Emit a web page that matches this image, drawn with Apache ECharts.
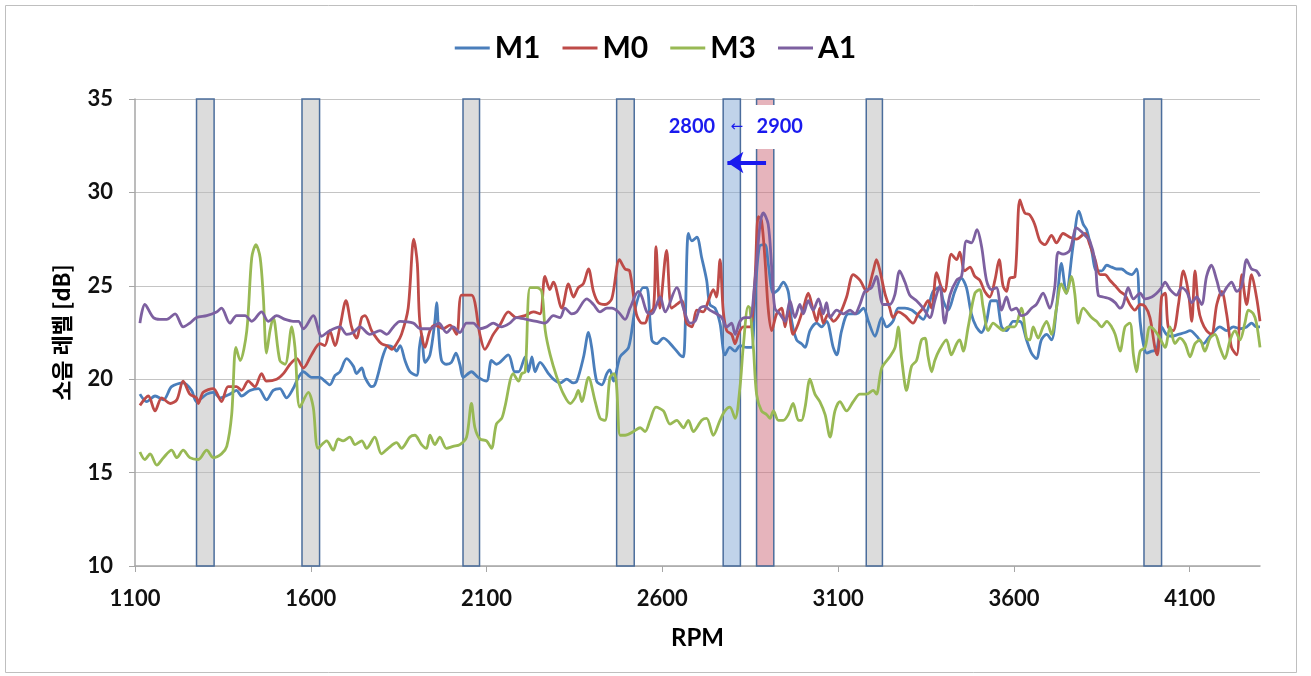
<!DOCTYPE html>
<html>
<head>
<meta charset="utf-8" />
<title>소음 레벨 - RPM</title>
<script src="https://cdn.jsdelivr.net/npm/echarts@6/dist/echarts.min.js"></script>
<style>html,body{margin:0;padding:0;background:#fff;}</style>
</head>
<body>
<div id="main" style="width:1311px;height:676px;"></div>
<script type="text/javascript">

// [rpm, dB]
var m1 = [[1114,19.2],[1133,18.8],[1157,19.1],[1181,18.9],[1204,19.6],[1237,19.8],[1261,19.4],[1275,18.8],[1304,19.2],[1323,19.3],[1342,19.0],[1370,19.2],[1389,19.4],[1403,19.1],[1427,19.4],[1451,19.5],[1474,18.9],[1493,19.4],[1512,19.5],[1531,19.0],[1550,19.5],[1565,20.1],[1579,20.4],[1602,20.1],[1626,20.1],
  [1640,19.9],[1654,19.7],[1669,20.2],[1683,20.4],[1702,21.1],[1721,20.7],[1730,20.3],[1745,20.6],[1754,20.1],[1773,19.6],[1782,19.7],[1792,20.3],[1806,21.3],[1820,21.8],[1835,21.7],[1844,21.5],[1854,21.8],[1868,21.0],[1882,20.4],[1901,20.2],[1909,21.7],[1915,22.4],[1925,20.9],[1939,21.3],[1953,23.1],[1958,24.1],[1964,22.4],[1972,21.0],[1986,20.8],[2000,20.9],[2013,21.4],[2024,20.8],[2034,20.1],[2057,20.4],[2076,20.1],[2100,19.9],[2114,21.0],[2128,20.8],[2162,21.3],[2180,20.4],
  [2191,20.4],[2210,21.2],[2219,20.4],[2229,21.2],[2238,20.4],[2252,20.9],[2276,20.3],[2290,20.0],[2309,19.8],[2328,20.0],[2347,19.8],[2357,19.9],[2376,21.2],[2390,22.5],[2399,21.7],[2413,19.9],[2428,19.7],[2442,20.3],[2451,20.5],[2461,19.9],[2480,21.2],[2504,21.7],[2523,23.8],[2546,24.9],[2556,24.9],[2570,22.1],[2584,21.9],[2603,22.2],[2632,21.7],[2650,21.3],[2660,21.2],[2674,27.8],[2684,27.4],[2698,27.6],[2712,26.5],[2726,25.3],
  [2735,24.0],[2750,23.8],[2764,23.0],[2778,21.3],[2792,21.7],[2807,21.5],[2821,21.8],[2840,21.7],[2854,21.7],[2863,24.2],[2876,27.1],[2892,27.2],[2901,26.2],[2916,24.6],[2930,24.8],[2944,25.2],[2958,24.7],[2968,23.1],[2982,22.1],[2996,21.9],[3006,21.7],[3020,22.6],[3039,23.0],[3053,22.8],[3067,23.1],[3086,21.7],[3096,21.3],[3110,22.6],[3129,23.5],[3153,23.5],[3172,23.8],[3186,23.1],[3205,22.3],[3224,23.3],[3238,22.8],
  [3256,23.1],[3271,23.8],[3290,23.8],[3309,23.7],[3323,23.5],[3342,23.2],[3356,23.8],[3370,24.7],[3389,24.9],[3399,24.2],[3413,23.7],[3432,24.7],[3451,25.4],[3465,24.9],[3479,23.5],[3493,22.8],[3508,22.5],[3522,23.1],[3536,24.2],[3550,24.2],[3565,22.8],[3579,22.6],[3598,23.1],[3617,23.1],[3636,22.1],[3650,21.4],[3664,21.1],[3678,22.1],[3693,22.4],[3707,22.1],[3721,23.8],[3735,26.2],[3749,24.6],[3768,27.1],[3785,29.0],[3797,28.3],
  [3807,28.0],[3821,26.9],[3835,25.8],[3850,25.8],[3864,26.1],[3878,26.0],[3892,25.9],[3906,25.9],[3921,25.7],[3935,25.6],[3949,25.9],[3959,23.1],[3968,21.9],[3978,21.4],[3992,21.5],[4006,21.6],[4020,22.8],[4034,22.4],[4049,22.3],[4068,22.4],[4087,22.5],[4101,22.6],[4120,22.3],[4139,21.9],[4153,22.2],[4167,22.5],[4186,22.8],[4205,22.6],[4224,22.8],[4243,22.7],[4262,22.8],[4276,23.0],[4290,22.8],[4300,22.8]];

var m0 = [[1114,18.6],[1138,19.1],[1157,18.3],[1176,19.0],[1200,18.7],[1219,18.9],[1237,19.9],[1256,19.2],[1275,19.0],[1280,18.7],[1294,19.3],[1323,19.5],[1346,18.8],[1365,19.6],[1389,19.6],[1403,19.4],[1422,19.9],[1441,19.6],[1460,20.3],[1474,19.9],[1503,20.0],[1522,20.3],[1541,20.8],[1560,21.1],[1579,20.6],[1602,21.3],[1626,21.9],
  [1640,21.8],[1654,22.6],[1669,21.8],[1683,22.8],[1700,24.2],[1716,22.8],[1730,22.2],[1745,23.3],[1754,23.4],[1773,22.6],[1787,22.2],[1801,21.9],[1816,21.8],[1830,21.6],[1844,21.9],[1858,22.4],[1877,23.8],[1893,27.5],[1903,26.2],[1910,23.1],[1925,21.7],[1939,22.6],[1953,22.9],[1977,22.7],[1996,22.9],[2015,22.4],[2029,24.5],[2057,24.5],[2081,22.4],[2095,21.6],[2119,22.4],[2138,22.9],[2162,23.6],[2185,23.3],
  [2209,23.4],[2233,23.6],[2252,23.5],[2266,25.5],[2280,24.8],[2290,25.2],[2314,23.8],[2333,25.1],[2347,24.4],[2361,24.9],[2375,25.1],[2390,25.9],[2404,24.7],[2418,24.1],[2437,24.0],[2456,24.3],[2478,26.4],[2494,25.9],[2507,25.8],[2526,23.5],[2542,23.0],[2551,23.0],[2561,23.5],[2575,23.8],[2582,27.1],[2593,23.8],[2612,26.9],[2626,23.8],[2641,24.0],[2655,24.2],[2669,23.0],[2684,22.8],[2698,23.7],
  [2716,23.6],[2731,24.2],[2745,24.8],[2754,24.4],[2764,26.4],[2773,23.7],[2783,22.6],[2797,22.4],[2807,21.9],[2816,22.4],[2830,22.8],[2849,22.8],[2863,25.2],[2873,28.7],[2882,28.5],[2892,26.4],[2901,23.8],[2911,22.6],[2925,23.5],[2939,23.8],[2949,22.8],[2958,23.7],[2972,22.4],[2987,23.0],[3001,23.8],[3015,24.6],[3029,23.7],[3039,23.1],[3048,23.8],[3058,23.0],[3072,23.5],[3086,23.1],[3105,23.5],[3124,24.4],[3143,25.6],[3162,25.3],[3181,24.7],[3200,25.8],[3209,26.4],[3219,25.8],[3233,24.6],[3247,23.8],
  [3256,23.3],[3271,23.6],[3290,23.4],[3313,23.0],[3328,23.5],[3342,23.8],[3356,24.2],[3366,23.8],[3380,25.7],[3394,24.9],[3403,24.7],[3422,26.7],[3437,26.4],[3446,26.8],[3460,25.8],[3475,26.0],[3489,25.5],[3503,25.3],[3517,24.7],[3531,24.4],[3546,25.3],[3558,26.4],[3569,25.0],[3579,24.7],[3588,25.4],[3603,25.5],[3617,29.6],[3631,28.9],[3645,28.8],[3659,28.3],[3674,27.4],[3688,27.2],[3707,27.7],[3721,27.3],[3740,27.8],[3759,27.6],[3778,27.5],
  [3802,27.8],[3816,27.2],[3831,26.4],[3845,25.6],[3859,25.6],[3873,25.3],[3888,25.0],[3902,24.7],[3916,24.5],[3930,24.0],[3944,23.7],[3959,24.0],[3973,23.9],[3987,23.3],[4001,21.7],[4008,21.3],[4020,24.4],[4030,24.6],[4039,22.8],[4053,22.6],[4068,24.0],[4082,25.8],[4096,24.7],[4106,23.1],[4115,25.8],[4125,23.8],[4134,23.1],[4148,22.6],[4162,22.4],[4177,24.0],[4191,24.7],[4205,23.5],[4219,21.7],[4234,21.3],[4248,25.6],[4262,24.0],[4276,25.6],[4290,24.4],[4300,23.1]];

var m3 = [[1114,16.1],[1128,15.7],[1143,16.0],[1162,15.4],[1181,15.8],[1204,16.2],[1219,15.8],[1237,16.2],[1256,15.8],[1280,15.7],[1304,16.2],[1323,15.8],[1346,16.0],[1361,16.4],[1375,18.1],[1387,21.7],[1399,21.0],[1418,22.6],[1432,26.5],[1444,27.2],[1456,26.5],[1465,24.4],[1474,21.4],[1484,22.6],[1493,23.3],[1512,21.0],[1527,20.8],[1546,22.8],[1555,21.7],[1569,18.5],[1593,19.3],[1607,18.5],[1621,16.3],[1645,16.7],
  [1664,16.2],[1678,16.8],[1692,16.7],[1711,16.9],[1726,16.5],[1745,16.7],[1759,16.3],[1782,16.9],[1801,16.0],[1820,16.3],[1844,16.6],[1858,16.3],[1882,16.9],[1896,17.0],[1915,16.5],[1929,16.3],[1939,17.0],[1953,16.5],[1967,16.9],[1986,16.3],[2005,16.4],[2024,16.5],[2043,16.9],[2057,18.7],[2067,17.4],[2081,16.8],[2100,16.7],[2114,16.3],[2128,17.6],[2143,17.9],[2152,18.5],[2176,20.3],[2191,19.9],[2200,20.3],[2210,20.4],[2224,24.9],[2243,24.9],[2257,24.7],[2267,22.6],[2281,21.3],[2300,20.1],[2319,19.2],[2338,18.7],[2352,19.0],[2361,19.4],[2371,18.8],[2390,20.1],[2409,18.8],[2423,17.9],[2437,17.8],[2451,20.1],[2463,20.3],[2470,19.6],[2480,17.0],[2494,17.0],[2518,17.2],[2537,17.4],[2551,17.2],[2565,17.8],[2582,18.5],[2603,18.3],[2622,17.6],[2641,17.8],[2660,17.4],[2674,17.8],[2688,17.2],[2712,17.8],[2726,17.9],
  [2745,17.0],[2764,17.8],[2778,18.3],[2792,18.5],[2807,17.9],[2821,19.6],[2830,21.7],[2844,23.9],[2849,23.8],[2859,21.7],[2868,19.2],[2882,18.3],[2897,18.1],[2906,17.9],[2916,18.3],[2930,17.8],[2944,17.8],[2958,18.1],[2972,18.7],[2987,17.8],[2996,17.8],[3006,18.5],[3020,20.0],[3034,19.2],[3048,18.8],[3063,18.1],[3077,16.9],[3091,18.3],[3105,18.8],[3124,18.3],[3143,18.8],[3162,19.2],[3181,19.2],[3200,19.4],[3209,19.2],[3224,20.6],[3247,21.2],[3262,21.7],
  [3271,22.8],[3280,21.2],[3290,19.7],[3294,19.4],[3309,20.7],[3323,21.0],[3337,22.1],[3347,22.2],[3356,21.2],[3366,20.4],[3375,21.0],[3389,21.6],[3408,22.1],[3422,21.3],[3437,21.9],[3446,22.1],[3456,21.5],[3470,22.8],[3489,24.6],[3503,24.8],[3512,23.9],[3527,22.6],[3541,23.0],[3555,22.8],[3569,22.6],[3584,22.8],[3602,22.8],[3621,23.8],[3636,22.2],[3645,22.1],[3655,22.8],[3669,22.2],[3683,22.8],[3693,23.1],[3707,22.4],[3721,23.8],[3735,25.1],[3749,24.6],[3764,25.5],[3773,24.6],[3783,23.0],[3797,23.8],
  [3821,23.3],[3835,23.1],[3850,22.8],[3864,23.1],[3878,22.8],[3888,22.4],[3902,21.5],[3916,22.8],[3930,23.0],[3940,21.3],[3949,20.4],[3959,21.5],[3973,21.7],[3987,22.8],[4001,22.6],[4015,22.2],[4030,21.7],[4044,22.8],[4058,21.9],[4072,22.2],[4087,21.9],[4101,21.2],[4115,21.9],[4129,22.1],[4143,21.5],[4158,22.2],[4172,22.4],[4186,21.7],[4200,21.1],[4215,22.1],[4229,22.6],[4243,22.1],[4257,23.0],[4267,23.7],[4281,23.5],[4290,23.0],[4300,21.7]];

var a1 = [[1114,23.0],[1128,24.0],[1152,23.3],[1171,23.2],[1190,23.2],[1214,23.5],[1237,22.8],[1256,23.0],[1275,23.3],[1304,23.4],[1332,23.6],[1346,23.8],[1370,23.0],[1389,23.4],[1413,23.4],[1432,23.1],[1460,23.6],[1479,23.1],[1503,23.4],[1527,23.2],[1550,23.1],[1565,23.1],[1579,22.7],[1607,23.4],[1631,22.3],
  [1654,22.6],[1683,22.8],[1702,22.4],[1721,22.5],[1740,22.8],[1768,22.4],[1797,22.6],[1816,22.4],[1835,22.8],[1854,23.1],[1892,23.0],[1911,22.7],[1940,22.7],[1964,23.0],[1986,22.5],[2005,22.8],[2024,22.5],[2043,23.0],[2062,23.0],[2081,22.7],[2100,22.8],[2119,23.0],[2142,22.8],[2166,23.0],
  [2185,23.3],[2214,23.2],[2242,23.1],[2266,23.0],[2290,23.4],[2309,23.3],[2323,23.8],[2342,23.5],[2356,23.6],[2385,24.3],[2404,24.0],[2423,23.6],[2442,23.8],[2456,23.8],[2475,23.6],[2494,23.2],[2508,23.8],[2532,24.7],[2542,24.4],[2556,23.6],[2570,23.5],[2594,24.4],[2608,23.6],[2641,24.9],[2660,23.8],[2679,23.0],[2693,23.1],[2707,23.8],
  [2721,23.9],[2735,23.7],[2754,23.5],[2769,23.3],[2783,22.8],[2797,23.0],[2807,22.4],[2821,23.1],[2835,23.3],[2849,23.3],[2863,25.2],[2878,28.3],[2887,28.9],[2901,28.3],[2911,26.0],[2920,23.8],[2934,23.5],[2949,23.1],[2963,24.2],[2977,23.3],[2991,24.0],[3001,23.5],[3015,24.2],[3029,23.7],[3044,24.3],[3058,23.5],[3067,24.1],[3077,23.3],[3096,23.7],[3115,23.5],[3134,23.7],[3148,23.5],[3162,24.0],[3176,24.7],[3195,24.9],[3209,25.5],[3228,24.0],[3247,24.0],
  [3261,24.5],[3275,25.8],[3290,25.2],[3304,24.5],[3323,24.2],[3342,23.8],[3361,23.3],[3375,24.2],[3389,25.0],[3403,23.0],[3418,24.5],[3437,25.3],[3451,25.5],[3465,27.4],[3479,27.3],[3495,28.0],[3508,27.1],[3522,25.3],[3536,24.8],[3550,24.9],[3565,23.7],[3579,24.4],[3593,23.7],[3607,23.8],[3621,23.4],[3636,23.5],[3650,23.8],[3664,24.0],[3683,24.6],[3702,23.8],[3716,24.9],[3726,26.8],[3740,26.7],[3759,26.9],[3778,28.1],[3792,27.9],
  [3802,27.7],[3816,27.4],[3831,26.3],[3840,24.5],[3854,24.4],[3873,24.3],[3888,24.1],[3902,23.8],[3911,24.0],[3925,24.9],[3940,24.3],[3959,24.6],[3973,24.3],[3992,24.4],[4006,24.6],[4020,24.9],[4030,25.2],[4044,24.8],[4063,24.5],[4077,24.9],[4091,24.7],[4106,24.1],[4120,24.4],[4134,24.0],[4148,25.5],[4162,26.1],[4177,25.3],[4191,24.5],[4205,24.9],[4219,25.2],[4234,24.7],[4248,25.0],[4262,26.4],[4276,25.9],[4290,25.8],[4300,25.5]];

// highlighted rpm ranges [from, to, kind]
var bands = [[1275,1325,'gray'],[1575,1625,'gray'],[2033,2080,'gray'],[2470,2520,'gray'],
             [2773,2822,'blue'],[2868,2917,'pink'],[3180,3226,'gray'],[3970,4020,'gray']];
var bandFill = { gray: 'rgba(185,185,185,0.5)', blue: 'rgba(129,167,213,0.5)', pink: 'rgba(205,105,121,0.5)' };

var seriesNames = ['M1', 'M0', 'M3', 'A1'];
var seriesColors = ['#4a7ebb', '#be4b48', '#98b954', '#7d60a0'];
var seriesData = [m1, m0, m3, a1];

var font = 'Lato, "Noto Sans CJK KR", sans-serif';
var annBlue = '#1a1aee';

var myChart = echarts.init(document.getElementById('main'));

var series = seriesData.map(function (d, i) {
    return {
        name: seriesNames[i],
        type: 'line',
        data: d,
        showSymbol: false,
        smooth: 0.3,
        z: 2,
        lineStyle: { color: seriesColors[i], width: 2.8 },
        itemStyle: { color: seriesColors[i] }
    };
});

series.push({
    name: 'bands',
    type: 'line',
    data: [],
    z: 3,
    silent: true,
    markArea: {
        silent: true,
        data: bands.map(function (b) {
            return [{ xAxis: b[0], itemStyle: { color: bandFill[b[2]], borderColor: '#4b6d9c', borderWidth: 1.5 } },
                    { xAxis: b[1] }];
        })
    },
    markLine: {
        silent: true,
        symbol: ['none', 'arrow'],
        symbolSize: [16, 16],
        label: { show: false },
        lineStyle: { color: annBlue, width: 4, type: 'solid' },
        data: [[{ coord: [2895, 31.6] }, { coord: [2785, 31.6] }]]
    }
});

myChart.setOption({
    animation: false,
    backgroundColor: '#fff',
    textStyle: { fontFamily: font },
    legend: {
        data: seriesNames,
        top: 28,
        left: 'center',
        icon: 'rect',
        itemWidth: 35,
        itemHeight: 3,
        itemGap: 22,
        textStyle: { fontSize: 30, fontWeight: 'bold', color: '#000', fontFamily: font }
    },
    grid: { left: 135, right: 51, top: 99, bottom: 110 },
    xAxis: {
        type: 'value',
        min: 1100,
        max: 4300,
        interval: 500,
        name: 'RPM',
        nameLocation: 'middle',
        nameGap: 60,
        nameTextStyle: { fontSize: 24, fontWeight: 'bold', color: '#000', fontFamily: font },
        splitLine: { show: false },
        axisLine: { lineStyle: { color: '#a6a6a6', width: 1.5 } },
        axisTick: { show: true, length: 6, lineStyle: { color: '#a6a6a6' } },
        axisLabel: { fontSize: 22, fontWeight: 'bold', color: '#111', margin: 22, fontFamily: font,
                     showMaxLabel: false,
                     formatter: function (v) { return String(v); } }
    },
    yAxis: {
        type: 'value',
        min: 10,
        max: 35,
        interval: 5,
        name: '소음 레벨 [dB]',
        nameLocation: 'middle',
        nameGap: 62,
        nameTextStyle: { fontSize: 22, fontWeight: 'bold', color: '#000', fontFamily: '"Noto Sans CJK KR", sans-serif' },
        axisLine: { show: true, lineStyle: { color: '#a6a6a6', width: 1.5 } },
        axisTick: { show: true, length: 6, lineStyle: { color: '#a6a6a6' } },
        splitLine: { lineStyle: { color: '#c4c4c4', width: 1.2 } },
        axisLabel: { fontSize: 22, fontWeight: 'bold', color: '#111', margin: 22, fontFamily: font }
    },
    series: series
});

// text annotations placed through the chart's own scales
var pA = myChart.convertToPixel({ gridIndex: 0 }, [2684, 33.5]);
var pB = myChart.convertToPixel({ gridIndex: 0 }, [2812, 33.5]);
var pC = myChart.convertToPixel({ gridIndex: 0 }, [2934, 33.5]);

myChart.setOption({
    graphic: [
        { type: 'rect', silent: true, z: 0,
          shape: { x: 5.5, y: 5.5, width: 1291, height: 667 },
          style: { fill: 'none', stroke: '#bfbfbf', lineWidth: 1 } },
        { type: 'text', z: 100, x: pA[0], y: pA[1],
          style: { text: '2800', fill: annBlue, font: 'bold 20px ' + font, align: 'center', verticalAlign: 'middle' } },
        { type: 'text', z: 100, x: pB[0], y: pB[1],
          style: { text: '←', fill: annBlue, font: '15px "DejaVu Sans"', align: 'center', verticalAlign: 'middle' } },
        { type: 'text', z: 100, x: pC[0], y: pC[1],
          style: { text: '2900', fill: annBlue, font: 'bold 20px ' + font, align: 'center', verticalAlign: 'middle',
                   backgroundColor: '#fff', padding: [12, 3, 12, 3] } }
    ]
});
</script>
</body>
</html>
